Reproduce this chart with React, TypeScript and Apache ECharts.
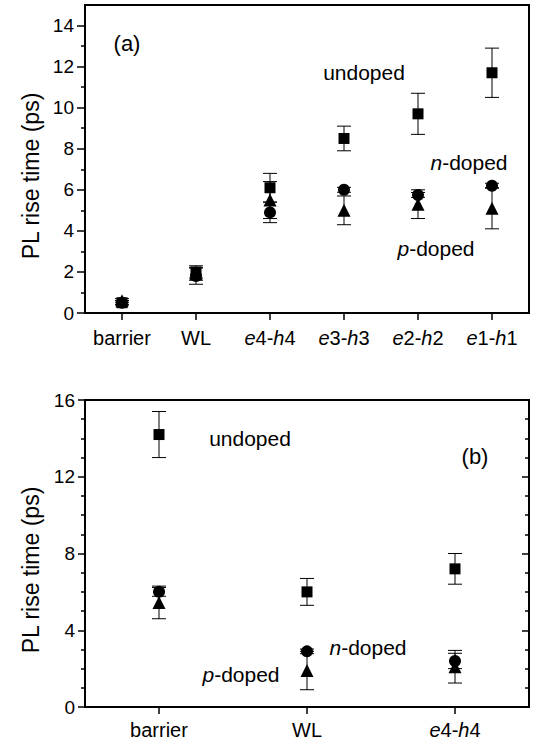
import React, { useEffect, useRef } from 'react';
import * as echarts from 'echarts';

const FONT = '"Liberation Sans", Arial, Helvetica, sans-serif';

// Panel (a)
const catsA = ['barrier', 'WL', 'e4-h4', 'e3-h3', 'e2-h2', 'e1-h1'];
const undopedA = [0.5, 2.0, 6.1, 8.5, 9.7, 11.7];
const undopedErrA = [0.1, 0.3, 0.7, 0.6, 1.0, 1.2];
const nDopedA = [0.5, 1.8, 4.9, 6.0, 5.75, 6.2];
const nDopedErrA = [0.1, 0.4, 0.5, 0.12, 0.12, 0.12];
const pDopedA = [0.6, 1.9, 5.5, 5.0, 5.3, 5.1];
const pDopedErrA = [0.1, 0.3, 0.9, 0.7, 0.7, 1.0];
const majorTicksA = [0, 2, 4, 6, 8, 10, 12, 14];
const minorTicksA = [1, 3, 5, 7, 9, 11, 13];

// Panel (b)
const catsB = ['barrier', 'WL', 'e4-h4'];
const undopedB = [14.2, 6.0, 7.2];
const undopedErrB = [1.2, 0.7, 0.8];
const nDopedB = [6.0, 2.9, 2.4];
const nDopedErrB = [0.23, 0.12, 0.4];
const pDopedB = [5.45, 1.9, 2.1];
const pDopedErrB = [0.85, 1.0, 0.85];

const errData = (vals: number[], errs: number[]) =>
  vals.map((v, i) => [i, v - errs[i], v + errs[i]]);

const errorRender = (_params: any, api: any) => {
  const x = api.value(0);
  const lo = api.coord([x, api.value(1)]);
  const hi = api.coord([x, api.value(2)]);
  const hw = 7;
  const style = { stroke: '#000', lineWidth: 1 };
  return {
    type: 'group',
    children: [
      { type: 'line', shape: { x1: lo[0], y1: lo[1], x2: hi[0], y2: hi[1] }, style },
      { type: 'line', shape: { x1: lo[0] - hw, y1: lo[1], x2: lo[0] + hw, y2: lo[1] }, style },
      { type: 'line', shape: { x1: hi[0] - hw, y1: hi[1], x2: hi[0] + hw, y2: hi[1] }, style },
    ],
  };
};

const catFormatter = (v: string) => v.replace(/^e(\d)-h(\d)$/, '{i|e}$1-{i|h}$2');

const xAxisBase = (gridIndex: number, data: string[], margin: number) => ({
  type: 'category',
  gridIndex,
  data,
  boundaryGap: true,
  axisLine: { show: false },
  axisTick: { show: true, alignWithLabel: true, interval: 0, length: 7, lineStyle: { color: '#000', width: 1.5 } },
  axisLabel: {
    interval: 0,
    margin,
    color: '#000',
    fontSize: 20,
    fontFamily: FONT,
    formatter: catFormatter,
    rich: { i: { fontStyle: 'italic', fontSize: 20, fontFamily: FONT, color: '#000' } },
  },
  splitLine: { show: false },
});

const mkSeries = (
  xi: number,
  yi: number,
  cats: string[],
  u: number[], ue: number[],
  n: number[], ne: number[],
  p: number[], pe: number[]
) => {
  const groups: [string, number[], number[], string, number][] = [
    ['p-doped', p, pe, 'triangle', 13],
    ['n-doped', n, ne, 'circle', 12],
    ['undoped', u, ue, 'rect', 11],
  ];
  const out: any[] = [];
  groups.forEach(([name, vals, errs, sym, size]) => {
    out.push({
      type: 'custom',
      name: name + ' err',
      xAxisIndex: xi,
      yAxisIndex: yi,
      renderItem: errorRender,
      encode: { x: 0, y: [1, 2] },
      data: errData(vals, errs),
      z: 2,
      silent: true,
    });
    out.push({
      type: 'scatter',
      name,
      xAxisIndex: xi,
      yAxisIndex: yi,
      symbol: sym,
      symbolSize: size,
      itemStyle: { color: '#000', opacity: 1 },
      data: vals.map((v, i) => [cats[i], v]),
      z: 3,
    });
  });
  return out;
};

const txt = (x: number, y: number, text: string, size = 21, rich?: any) => ({
  type: 'text',
  x,
  y,
  z: 10,
  style: {
    text,
    align: 'center',
    verticalAlign: 'middle',
    fontSize: size,
    fontFamily: FONT,
    fill: '#000',
    rich,
  },
});

const italicRich = { i: { fontStyle: 'italic', fontSize: 21, fontFamily: FONT, fill: '#000', color: '#000' } };

export default function App() {
  const ref = useRef<HTMLDivElement>(null);
  useEffect(() => {
    if (!ref.current) return;
    const chart = echarts.init(ref.current, null, { renderer: 'svg' });
    const yLabel = { color: '#000', fontSize: 19, fontFamily: FONT };
    const option: any = {
      animation: false,
      backgroundColor: '#fff',
      textStyle: { fontFamily: FONT },
      grid: [
        { left: 85, top: 5, width: 444, height: 308, show: true, borderColor: '#000', borderWidth: 2, backgroundColor: 'transparent' },
        { left: 85, top: 400, width: 444, height: 307, show: true, borderColor: '#000', borderWidth: 2, backgroundColor: 'transparent' },
      ],
      xAxis: [xAxisBase(0, catsA, 15), xAxisBase(1, catsB, 13)],
      yAxis: [
        {
          type: 'value', gridIndex: 0, min: 0, max: 15, interval: 2, position: 'left',
          axisLine: { show: false },
          axisTick: { show: true, length: 8, customValues: majorTicksA, lineStyle: { color: '#000', width: 1.5 } },
          axisLabel: { ...yLabel, margin: 11, customValues: majorTicksA },
          splitLine: { show: false },
        },
        {
          // minor ticks of panel (a), placed onto the left edge
          type: 'value', gridIndex: 0, min: 0, max: 15, interval: 1, position: 'right', offset: -444,
          axisLine: { show: false },
          axisTick: { show: true, inside: true, length: 4, customValues: minorTicksA, lineStyle: { color: '#000', width: 1.5 } },
          axisLabel: { show: false },
          splitLine: { show: false },
        },
        {
          type: 'value', gridIndex: 1, min: 0, max: 16, interval: 4, position: 'left',
          axisLine: { show: false },
          axisTick: { show: true, length: 7, lineStyle: { color: '#000', width: 1.5 } },
          minorTick: { show: true, splitNumber: 4, length: 4, lineStyle: { color: '#000', width: 1.5 } },
          axisLabel: { ...yLabel, margin: 10 },
          splitLine: { show: false },
          minorSplitLine: { show: false },
        },
        {
          type: 'value', gridIndex: 1, min: 0, max: 16, interval: 4, position: 'right',
          axisLine: { show: false },
          axisTick: { show: true, inside: true, length: 7, lineStyle: { color: '#000', width: 1.5 } },
          minorTick: { show: true, splitNumber: 4, length: 4, lineStyle: { color: '#000', width: 1.5 } },
          axisLabel: { show: false },
          splitLine: { show: false },
          minorSplitLine: { show: false },
        },
      ],
      graphic: [
        { ...txt(31, 176, 'PL rise time (ps)', 23), rotation: Math.PI / 2 },
        { ...txt(31, 570, 'PL rise time (ps)', 23), rotation: Math.PI / 2 },
        txt(127, 43, '(a)', 22),
        txt(364, 72, 'undoped'),
        txt(469, 162, '{i|n}-doped', 21, italicRich),
        txt(436, 248, '{i|p}-doped', 21, italicRich),
        txt(250, 438, 'undoped'),
        txt(475, 456, '(b)', 22),
        txt(368, 647, '{i|n}-doped', 21, italicRich),
        txt(241, 674, '{i|p}-doped', 21, italicRich),
      ],
      series: [
        ...mkSeries(0, 0, catsA, undopedA, undopedErrA, nDopedA, nDopedErrA, pDopedA, pDopedErrA),
        ...mkSeries(1, 2, catsB, undopedB, undopedErrB, nDopedB, nDopedErrB, pDopedB, pDopedErrB),
      ],
    };
    chart.setOption(option);
    return () => chart.dispose();
  }, []);
  return (
    <div
      ref={ref}
      style={{ position: 'absolute', left: 0, top: 0, width: 537, height: 749, background: '#fff' }}
    />
  );
}
